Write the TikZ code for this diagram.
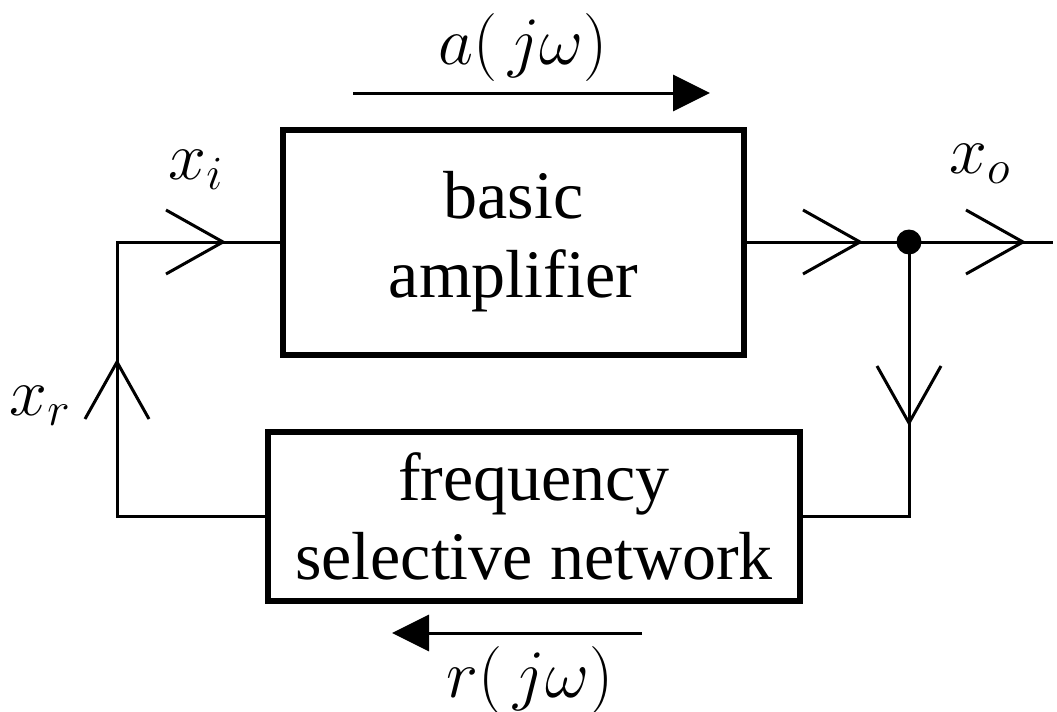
\documentclass[tikz,border=0pt]{standalone}
\usepackage{fix-cm}
\usepackage{fontspec}
\setmainfont{Liberation Serif}
\usetikzlibrary{arrows.meta}
\newcommand{\bigtext}{\fontsize{34}{39.5}\selectfont}
\tikzset{
  blk/.style={draw, line width=3pt, align=center, font=\bigtext, inner sep=0pt},
  wire/.style={line width=1.5pt},
  lbl/.style={font=\bigtext, inner sep=0pt},
  flow/.style={line width=1.5pt, -{Triangle[length=18.5pt,width=18pt]}},
  chev/.pic={\draw[line width=1.5pt] (-57,-32) -- (0,0) -- (-57,32);}
}
\begin{document}
\begin{tikzpicture}[x=0.5pt,y=-0.5pt]
\useasboundingbox (0,0) rectangle (1057,712);
% blocks
\node[blk, minimum width=230.5pt, minimum height=112.5pt] (amp) at (513.5,242) {basic\\amplifier};
\node[blk, minimum width=266pt, minimum height=84.5pt] (net) at (534,516.5) {frequency\\selective network};
% coordinates
\coordinate (tl) at (117,242);
\coordinate (bl) at (117,516.5);
\coordinate (dot) at (909,242);
\coordinate (br) at (909,516.5);
\coordinate (out) at (1053,242);
% wires
\draw[wire] (net.west) -- (bl) -- (tl) -- (amp.west);
\draw[wire] (amp.east) -- (dot) -- (out);
\draw[wire] (dot) -- (br) -- (net.east);
\fill (dot) circle (6.25pt);
% chevrons
\pic at (223,242) {chev};
\pic at (860,242) {chev};
\pic at (1023,242) {chev};
\pic[rotate=-90] at (909,423) {chev};
\pic[rotate=90] at (117,362) {chev};
% signal labels
\node[lbl] (xi) at (196,170) {$x_{i}$};
\node[lbl] (xo) at (980,164) {$x_{o}$};
\node[lbl] (xr) at (40,406) {$x_{r}$};
% transfer arrows
\coordinate (a1) at (353,93);
\coordinate (a2) at (710,93);
\draw[flow] (a1) -- (a2);
\node[lbl] (al) at (523,48) {$a(\,j\omega)$};
\coordinate (r1) at (642,633);
\coordinate (r2) at (392,633);
\draw[flow] (r1) -- (r2);
\node[lbl] (rl) at (530,680) {$r(\,j\omega)$};
\end{tikzpicture}
\end{document}
